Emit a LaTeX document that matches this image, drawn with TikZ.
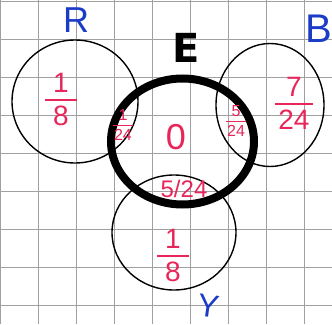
\documentclass[tikz,border=0pt]{standalone}
\usepackage{fontspec}
\setmainfont{Liberation Sans}
\newfontfamily\heavyfont{DejaVu Sans}
\usepackage{array}
\definecolor{pen}{HTML}{E8265A}
\definecolor{ink}{HTML}{1B3CC6}
\definecolor{gridc}{HTML}{A0A0A0}
% fraction: [side padding]{size}{numerator}{denominator}{rule width}
\newcommand\fr[5][5pt]{{\fontsize{#2}{#2}\selectfont\setlength\arrayrulewidth{#5}\renewcommand\arraystretch{0.8}%
\begin{tabular}{@{\hspace{#1}}c@{\hspace{#1}}}#3\\\hline\noalign{\vskip 0.18em}#4\end{tabular}}}
\tikzset{
  gridline/.style={draw=gridc, line width=0.9pt},
  setcircle/.style={draw=black, line width=1.4pt},
  bigset/.style={draw=black, line width=8pt},
  setname/.style={text=ink, inner sep=0pt},
  prob/.style={text=pen, inner sep=0pt},
}
\begin{document}
\begin{tikzpicture}[x=1pt,y=-1pt]
\useasboundingbox (0,0) rectangle (332,324);
\fill[white] (0,0) rectangle (332,324);
% grid paper
\foreach \i in {0,...,8} {
  \draw[gridline] (38.1*\i,0) -- (38.1*\i,324);
  \draw[gridline] (0,38.1*\i+1) -- (332,38.1*\i+1);
}
% sets
\draw[setcircle] (75,101.5) ellipse [x radius=63pt, y radius=61.5pt];
\draw[setcircle] (270,105) ellipse [x radius=54pt, y radius=61.5pt];
\draw[setcircle] (174,232.5) ellipse [x radius=62pt, y radius=57.5pt];
\draw[bigset] (182.5,141.5) ellipse [x radius=71.5pt, y radius=63pt];
% set names
\node[setname, font=\fontsize{36}{36}\selectfont] (lR) at (76,20) {R};
\node[setname, font=\fontsize{40}{40}\selectfont] (lB) at (319,29) {B};
\node[inner sep=0pt, font=\fontsize{40}{40}\selectfont\heavyfont\bfseries] (lE) at (186,48) {E};
\node[setname, font=\fontsize{32}{32}\selectfont, rotate=-8] (lY) at (209,306) {Y};
% probabilities
\node[prob] (pR) at (61,103) {\fr[8pt]{28}{1}{8}{1.8pt}};
\node[prob] (pB) at (294,107) {\fr[3pt]{28}{7}{24}{1.8pt}};
\node[prob] (pRE) at (123,127) {\fr[1pt]{16}{1}{24}{1.3pt}};
\node[prob] (pBE) at (236,123) {\fr[1pt]{16}{5}{24}{1.3pt}};
\node[prob, font=\fontsize{36}{38}\selectfont] (pE) at (176,137) {0};
\node[prob, font=\fontsize{24}{24}\selectfont] (pYE) at (184,189) {5/24};
\node[prob] (pY) at (173,259) {\fr[8pt]{28}{1}{8}{1.8pt}};
\end{tikzpicture}
\end{document}
